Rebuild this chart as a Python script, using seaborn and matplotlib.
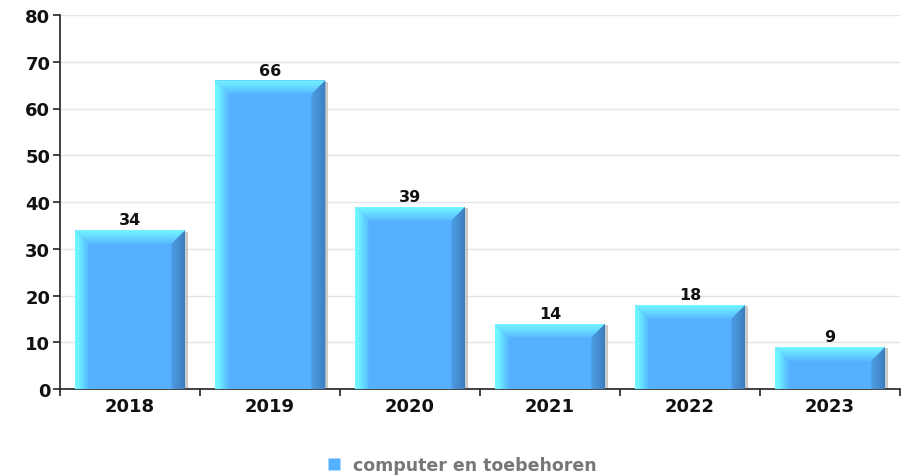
import numpy as np
import pandas as pd
import matplotlib
matplotlib.use("Agg")
import matplotlib.pyplot as plt
from matplotlib.patches import Polygon, Rectangle
from matplotlib.lines import Line2D
import seaborn as sns

years = ["2018", "2019", "2020", "2021", "2022", "2023"]
values = [34, 66, 39, 14, 18, 9]
series_name = "computer en toebehoren"

sns.set_theme(style="white")
plt.rcParams["font.family"] = ["DejaVu Sans"]

W, H = 915, 477
fig = plt.figure(figsize=(W / 100, H / 100), dpi=100)
ax_l, ax_r, ax_t, ax_b = 60, 900, 16, 390
ax = fig.add_axes([ax_l / W, 1 - ax_b / H, (ax_r - ax_l) / W, (ax_b - ax_t) / H])

df = pd.DataFrame({"year": years, "value": values})
main_col = "#55B1FF"
sns.barplot(data=df, x="year", y="value", color=main_col, width=0.79,
            saturation=1, ax=ax, zorder=3, edgecolor="none")

ax.set_xlim(-0.5, len(years) - 0.5)
ax.set_ylim(0, 80)

# pixel -> data scale factors
px_x = 1.0 / ((ax_r - ax_l) / len(years))
px_y = 80.0 / (ax_b - ax_t)
bev = 14  # bevel width in pixels
bx, by = bev * px_x, bev * px_y


def ramp(stops, n=96):
    """Colour ramp through (position, colour) stops."""
    t = np.linspace(0, 1, n)
    pos = [s[0] for s in stops]
    cols = np.array([matplotlib.colors.to_rgb(s[1]) for s in stops])
    return np.stack([np.interp(t, pos, cols[:, k]) for k in range(3)], axis=1)


def grad_fill(poly_xy, stops, horizontal, z):
    poly = Polygon(poly_xy, closed=True, facecolor="none", edgecolor="none")
    ax.add_patch(poly)
    g = ramp(stops)
    img = g[None, :, :] if horizontal else g[:, None, :]
    xs = [p[0] for p in poly_xy]
    ys = [p[1] for p in poly_xy]
    # horizontal: first stop at the left; vertical: first stop at the top
    im = ax.imshow(img, extent=[min(xs), max(xs), min(ys), max(ys)],
                   aspect="auto", origin="upper", zorder=z,
                   interpolation="bilinear")
    im.set_clip_path(poly)


for p in list(ax.patches):
    x0, w, h = p.get_x(), p.get_width(), p.get_height()
    x1 = x0 + w
    # soft drop shadow on the right
    ax.add_patch(Rectangle((x1, 0), 2.5 * px_x, h - 1.5 * px_y,
                           facecolor="#b5b5b5", edgecolor="none", alpha=0.7,
                           zorder=2))
    # top highlight strip
    grad_fill([(x0, h), (x1, h), (x1 - bx, h - by), (x0 + bx, h - by)],
              [(0, "#74F6FF"), (0.45, "#68DCFF"), (1, "#58B8FF")], False, 4)
    # left highlight strip
    grad_fill([(x0, 0), (x0 + bx, 0), (x0 + bx, h - by), (x0, h)],
              [(0, "#72FAFF"), (0.3, "#6CEEFF"), (0.6, "#62D4FF"),
               (1, "#57B6FF")], True, 4)
    # right dark strip
    grad_fill([(x1 - bx, 0), (x1, 0), (x1, h), (x1 - bx, h - by)],
              [(0, "#4E9FE6"), (1, "#3C7EBF")], True, 4)
    ax.text(x0 + w / 2, h + 0.6, f"{int(h)}", ha="center", va="bottom",
            fontsize=11.5, fontweight="bold", color="#111111", zorder=5)

ax.set_xlim(-0.5, len(years) - 0.5)
ax.set_ylim(0, 80)

ax.set_yticks(range(0, 81, 10))
ax.yaxis.grid(True, color="#e4e4e4", linewidth=1, zorder=0)
ax.set_axisbelow(True)
ax.set_xlabel("")
ax.set_ylabel("")

for s in ["top", "right"]:
    ax.spines[s].set_visible(False)
for s in ["left", "bottom"]:
    ax.spines[s].set_color("#222222")
    ax.spines[s].set_linewidth(1.2)

ax.tick_params(axis="y", length=5, width=1.2, color="#222222", direction="out",
               labelsize=13, pad=2, left=True)
ax.tick_params(axis="x", which="major", length=0, labelsize=13, pad=6)
ax.set_xticks(np.arange(-0.5, len(years), 1.0), minor=True)
ax.tick_params(axis="x", which="minor", length=5, width=1.2, color="#222222",
               direction="out", bottom=True)
for lab in ax.get_xticklabels() + ax.get_yticklabels():
    lab.set_fontweight("bold")
    lab.set_color("#111111")

handle = Line2D([], [], marker="s", linestyle="none", markersize=9,
                markerfacecolor=main_col, markeredgecolor="none")
fig.legend([handle], [series_name], loc="center",
           bbox_to_anchor=(461 / W, 1 - 466 / H),
           frameon=False, handletextpad=0.6, handlelength=1.0,
           prop={"weight": "bold", "size": 12.5}, labelcolor="#777777")

fig.savefig("out.png", dpi=100)
